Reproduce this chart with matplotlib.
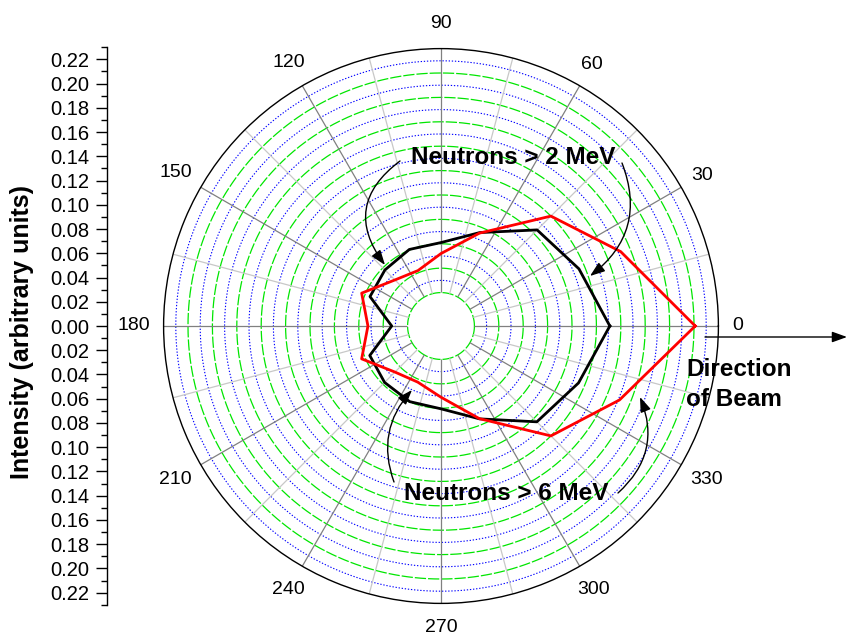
import numpy as np
import matplotlib
matplotlib.use('Agg')
import matplotlib.pyplot as plt
from matplotlib.ticker import FixedLocator

plt.rcParams['font.family'] = ['Liberation Sans', 'DejaVu Sans']

# angular distribution (degrees / arbitrary units)
angles_deg = [0, 22.5, 45, 67.5, 90, 112.5, 135, 157.5,
              180, 202.5, 225, 247.5, 270, 292.5, 315, 337.5]
neutrons_2mev = [0.111, 0.095, 0.084, 0.0555, 0.041, 0.0405, 0.0376, 0.0356,
                 0.013, 0.0358, 0.038, 0.0397, 0.0405, 0.055, 0.0837, 0.0946]
neutrons_6mev = [0.181, 0.132, 0.100, 0.055, 0.032, 0.0218, 0.026, 0.043,
                 0.0325, 0.043, 0.026, 0.0224, 0.031, 0.0548, 0.100, 0.131]

theta_labels = ['0', '30', '60', '90', '120', '150', '180',
                '210', '240', '270', '300', '330']
intensity_ticks = [-0.22, -0.20, -0.18, -0.16, -0.14, -0.12, -0.10, -0.08, -0.06,
                   -0.04, -0.02, 0.00, 0.02, 0.04, 0.06, 0.08, 0.10, 0.12,
                   0.14, 0.16, 0.18, 0.20, 0.22]

R_MAX = 0.2
W, H = 848, 639
CX, CY, RPX = 441, 326, 277.4

fig = plt.figure(figsize=(W / 100, H / 100), dpi=100)

# polar plot
ax = fig.add_axes([(CX - RPX) / W, (H - CY - RPX) / H, 2 * RPX / W, 2 * RPX / H],
                  projection='polar')
ax.set_rlim(0, R_MAX)
ax.set_rorigin(-0.0274)
ax.grid(False)
ax.set_yticks([])
# polar draw() turns the inner spine back on, so just make it invisible
ax.spines['inner'].set_edgecolor('none')
ax.spines['inner'].set_linewidth(0)
ax.spines['polar'].set_linewidth(1.0)

th = np.linspace(0, 2 * np.pi, 721)
for r in np.arange(0, R_MAX - 1e-9, 0.02):
    ax.plot(th, np.full_like(th, r), color='#00e600', lw=0.9,
            ls=(0, (9, 1.6)), zorder=1, clip_on=False)
for r in np.arange(0.01, R_MAX, 0.02):
    ax.plot(th, np.full_like(th, r), color='#0000ff', lw=0.8,
            ls=(0, (1.2, 1.6)), zorder=1)
for d in range(0, 360, 15):
    t = np.deg2rad(d)
    c = '#808080' if d % 30 == 0 else '#c8c8c8'
    ax.plot([t, t], [0, R_MAX], color=c, lw=0.9, zorder=1.5)

ax.set_xticks(np.deg2rad(np.arange(0, 360, 15)))
ax.set_xticklabels([])
ax.tick_params(axis='x', direction='in', length=6, width=0.8, color='k')
ax.tick_params(axis='x', tick2On=False)

ang = np.deg2rad(np.append(angles_deg, 360))
ax.plot(ang, np.append(neutrons_2mev, neutrons_2mev[0]), color='k', lw=2.0, zorder=3)
ax.plot(ang, np.append(neutrons_6mev, neutrons_6mev[0]), color='#ff0000', lw=2.0, zorder=4)

for lab in theta_labels:
    t = np.deg2rad(int(lab))
    w = 11 * len(lab)
    off = 302 + (w / 2 - 11) * abs(np.cos(t)) - RPX
    ax.annotate(lab, xy=(t, R_MAX), xytext=(off * np.cos(t), off * np.sin(t)),
                textcoords='offset pixels', ha='center', va='center',
                fontsize=14, annotation_clip=False)

# left intensity axis
top_px, bot_px = 47, 605
span = (CY - top_px) / 1212.0
axl = fig.add_axes([107 / W, (H - bot_px) / H, 0.0001, (bot_px - top_px) / H])
axl.set_ylim(-span, span)
for s in ['top', 'right', 'bottom']:
    axl.spines[s].set_visible(False)
axl.spines['left'].set_linewidth(1.0)
axl.set_xticks([])
axl.set_yticks(intensity_ticks)
axl.set_yticklabels([f"{abs(v):.2f}" for v in intensity_ticks], fontsize=14.5)
axl.yaxis.set_minor_locator(FixedLocator(np.arange(-0.23, 0.2301, 0.02)))
axl.tick_params(axis='y', which='major', length=7.7, width=1.0, pad=5.0)
axl.tick_params(axis='y', which='minor', length=4.1, width=1.0)
fig.text(22 / W, 1 - 332 / H, 'Intensity (arbitrary units)', rotation=90,
         ha='center', va='center', fontsize=18, fontweight='bold')

# overlay for annotations in pixel coordinates
ov = fig.add_axes([0, 0, 1, 1], zorder=5)
ov.set_xlim(0, W)
ov.set_ylim(H, 0)
ov.axis('off')

ov.text(513, 157, 'Neutrons > 2 MeV', ha='center', va='center',
        fontsize=17.5, fontweight='bold')
ov.text(506, 493, 'Neutrons > 6 MeV', ha='center', va='center',
        fontsize=17.5, fontweight='bold')
ov.text(686, 370, 'Direction', ha='left', va='center', fontsize=17.5, fontweight='bold')
ov.text(686, 399, 'of Beam', ha='left', va='center', fontsize=17.5, fontweight='bold')

arrow_style = '-|>,head_length=0.5,head_width=0.18'
curves = [((400, 161), (385, 265), 0.5),
          ((622, 163), (590, 276), -0.375),
          ((394, 482), (412, 390), -0.3),
          ((618, 493), (640, 397), 0.35)]
for start, end, rad in curves:
    ov.annotate('', xy=end, xytext=start,
                arrowprops=dict(arrowstyle=arrow_style, color='k', lw=1.0,
                                connectionstyle=f'arc3,rad={rad}',
                                shrinkA=0, shrinkB=0, mutation_scale=18))

ov.annotate('', xy=(847, 337), xytext=(705, 337),
            arrowprops=dict(arrowstyle=arrow_style, color='k', lw=1.0,
                            shrinkA=0, shrinkB=0, mutation_scale=18))

fig.savefig('out.png', dpi=100)
